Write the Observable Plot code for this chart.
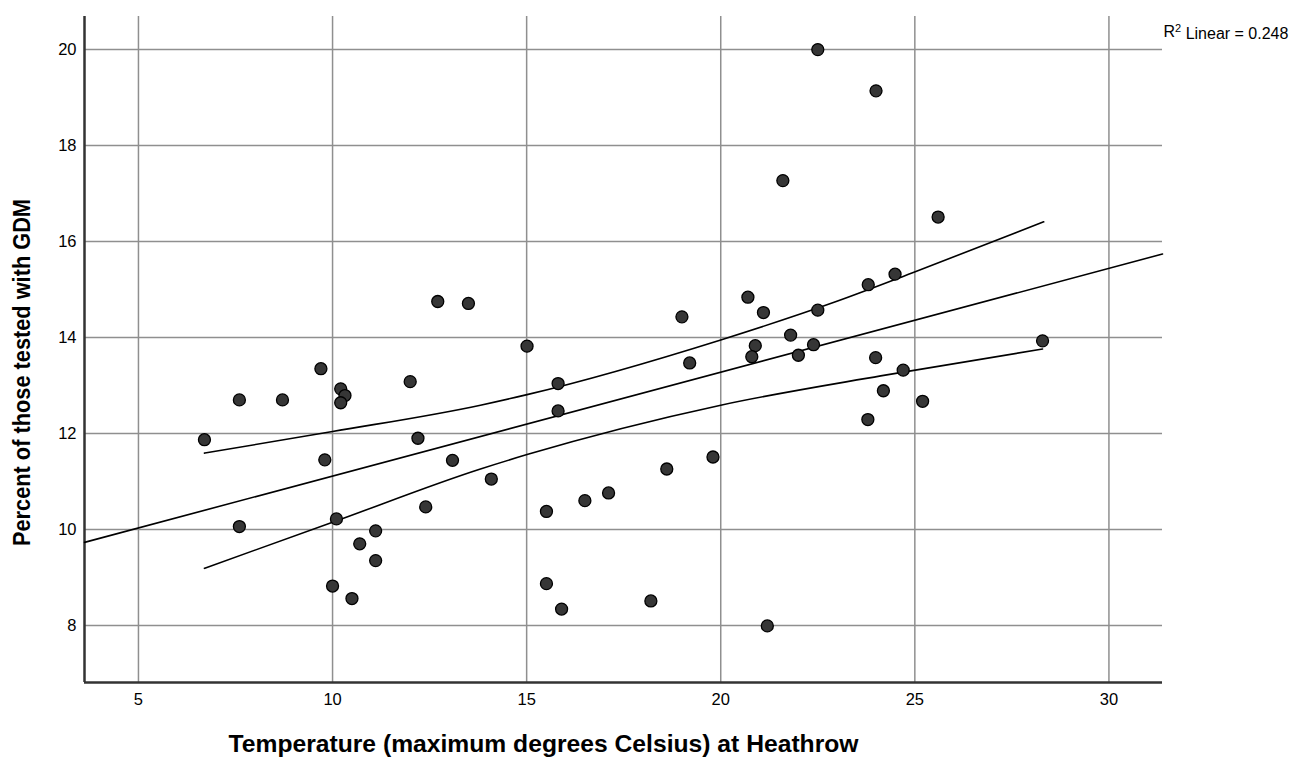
<!DOCTYPE html>
<html>
<head>
<meta charset="utf-8">
<script src="https://cdn.jsdelivr.net/npm/d3@7"></script>
<script src="https://cdn.jsdelivr.net/npm/@observablehq/plot@0.6"></script>
<style>
  html, body { margin: 0; padding: 0; background: #fff; }
  #chart { width: 1296px; height: 757px; }
</style>
</head>
<body>
<div id="chart"></div>
<script>
// Monthly observations: temperature (x) vs percent with GDM (y)
const temperature = [6.70, 7.60, 7.60, 8.71, 9.70, 10.21, 10.32, 10.21, 9.80, 10.10,
  10.00, 10.50, 10.70, 11.11, 11.11, 12.00, 12.20, 13.09, 12.40, 14.09,
  12.71, 13.50, 15.01, 15.81, 15.81, 19.00, 19.20, 15.51, 16.50, 17.11,
  18.61, 19.80, 15.51, 15.90, 18.20, 21.20, 21.10, 22.50, 20.89, 20.80,
  21.80, 22.39, 22.00, 23.99, 23.79, 23.80, 24.49, 24.70, 24.19, 25.20,
  28.29, 22.50, 24.00, 21.60, 25.60, 20.70];
const percentGDM = [11.87, 12.70, 10.06, 12.70, 13.35, 12.93, 12.79, 12.64, 11.45, 10.22,
  8.82, 8.56, 9.70, 9.97, 9.35, 13.08, 11.90, 11.44, 10.47, 11.05,
  14.75, 14.71, 13.82, 13.04, 12.47, 14.43, 13.47, 10.375, 10.60, 10.76,
  11.26, 11.51, 8.87, 8.34, 8.51, 7.99, 14.52, 14.57, 13.83, 13.60,
  14.05, 13.85, 13.63, 13.58, 12.29, 15.10, 15.32, 13.32, 12.89, 12.67,
  13.93, 20.00, 19.14, 17.27, 16.51, 14.84];

// Fit line
const fitX = [3.61, 31.38];
const fitY = [9.73, 15.74];

// 95% confidence band of the mean
const upperX = [6.70, 10.00, 13.81, 15.01, 20.00, 23.01, 25.01, 28.32];
const upperY = [11.59, 12.04, 12.59, 12.81, 13.95, 14.76, 15.37, 16.41];
const lowerX = [6.70, 10.00, 13.81, 15.01, 20.00, 24.12, 28.29];
const lowerY = [9.19, 10.15, 11.26, 11.56, 12.59, 13.20, 13.76];

const xTicks = [5, 10, 15, 20, 25, 30];
const yTicks = [8, 10, 12, 14, 16, 18, 20];
const xDomain = [3.61, 31.38];
const yDomain = [6.81, 20.69];

const xTitle = "Temperature (maximum degrees Celsius) at Heathrow";
const yTitle = "Percent of those tested with GDM";
const r2Label = "R² Linear = 0.248";

const points = temperature.map((t, i) => ({t, p: percentGDM[i]}));
const fit = fitX.map((x, i) => ({x, y: fitY[i]}));
const upper = upperX.map((x, i) => ({x, y: upperY[i]}));
const lower = lowerX.map((x, i) => ({x, y: lowerY[i]}));

const gridColor = "#8f8f8f";

const chart = Plot.plot({
  width: 1296,
  height: 757,
  marginLeft: 84,
  marginRight: 134,
  marginTop: 16,
  marginBottom: 75,
  style: {fontFamily: "'Liberation Sans', Arial, sans-serif", fontSize: "16px", color: "#000", background: "#fff"},
  x: {domain: xDomain},
  y: {domain: yDomain},
  marks: [
    Plot.gridX(xTicks, {stroke: gridColor, strokeOpacity: 1, strokeWidth: 1.5}),
    Plot.gridY(yTicks, {stroke: gridColor, strokeOpacity: 1, strokeWidth: 1.5}),
    Plot.ruleX([xDomain[0]], {stroke: "#333", strokeWidth: 2.5}),
    Plot.ruleY([yDomain[0]], {stroke: "#333", strokeWidth: 2.5}),
    Plot.axisX(xTicks, {tickSize: 0, tickPadding: 11, fontSize: 16.5, label: null}),
    Plot.axisY(yTicks, {tickSize: 0, tickPadding: 8, fontSize: 16.5, label: null}),
    Plot.line(upper, {x: "x", y: "y", stroke: "#000", strokeWidth: 1.6, curve: "monotone-x"}),
    Plot.line(lower, {x: "x", y: "y", stroke: "#000", strokeWidth: 1.6, curve: "monotone-x"}),
    Plot.line(fit, {x: "x", y: "y", stroke: "#000", strokeWidth: 1.6}),
    Plot.dot(points, {x: "t", y: "p", r: 6, fill: "#363636", stroke: "#000", strokeWidth: 1.3}),
    Plot.text([xTitle], {frameAnchor: "bottom", textAnchor: "middle", dx: -80, dy: 62, lineAnchor: "middle",
      fontSize: 24, fontWeight: "bold", fill: "#000"}),
    Plot.text([yTitle], {frameAnchor: "left", textAnchor: "middle", dx: -62, dy: 23, rotate: -90, lineAnchor: "middle",
      fontSize: 24, fontWeight: "bold", fill: "#000"}),
    Plot.text([r2Label], {frameAnchor: "top-right", dx: 1, dy: 15, textAnchor: "start",
      lineAnchor: "middle", fontSize: 16, fill: "#000"})
  ]
});

document.getElementById("chart").appendChild(chart);

const svg = d3.select(chart);
// Fit title widths to the reference
svg.selectAll("text").filter(function() { return this.textContent === xTitle; })
  .attr("textLength", 630).attr("lengthAdjust", "spacingAndGlyphs");
svg.selectAll("text").filter(function() { return this.textContent === yTitle; })
  .attr("textLength", 347).attr("lengthAdjust", "spacingAndGlyphs");

// Render the R² superscript with real tspans
svg.selectAll("text").filter(function() { return this.textContent === r2Label; })
  .each(function() {
    const t = d3.select(this);
    t.text(null);
    t.append("tspan").text("R");
    t.append("tspan").attr("dy", "-0.45em").attr("font-size", "11px").text("2");
    t.append("tspan").attr("dy", "0.45em").text(" Linear = 0.248");
  });
</script>
</body>
</html>
